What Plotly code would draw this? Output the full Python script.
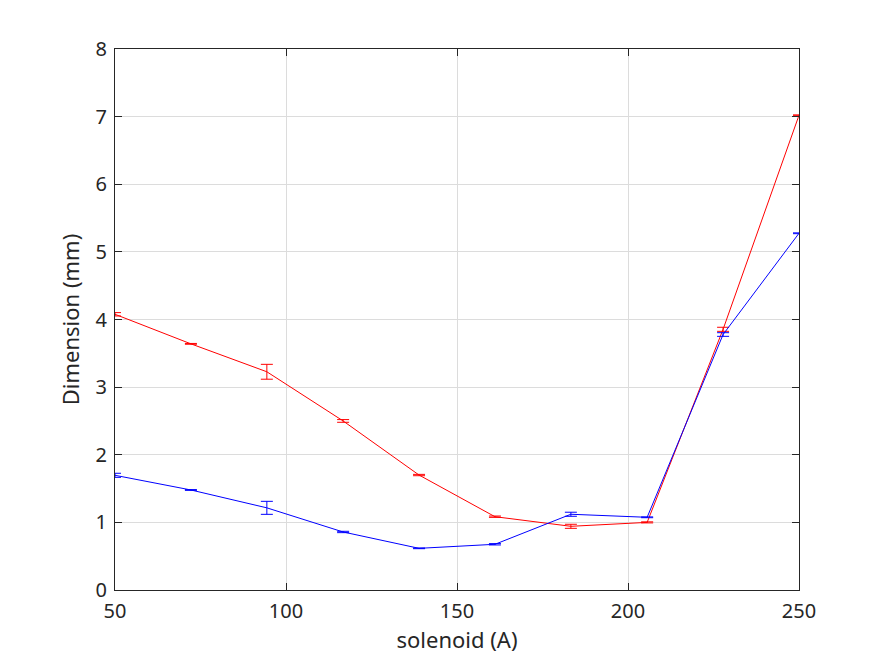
import plotly.graph_objects as go

solenoid = [50, 72.2, 94.4, 116.7, 138.9, 161.1, 183.3, 205.6, 227.8, 250]
red_dim = [4.077, 3.64, 3.227, 2.50, 1.70, 1.084, 0.942, 1.00, 3.855, 7.02]
red_err = [0.025, 0.006, 0.11, 0.02, 0.01, 0.01, 0.03, 0.008, 0.03, 0.006]
blue_dim = [1.696, 1.479, 1.215, 0.858, 0.616, 0.676, 1.12, 1.075, 3.778, 5.275]
blue_err = [0.03, 0.006, 0.096, 0.01, 0.005, 0.01, 0.03, 0.006, 0.027, 0.006]

FONT = "Noto Sans, Open Sans, sans-serif"

fig = go.Figure()
for ys, es, col in [(red_dim, red_err, "#ff0000"), (blue_dim, blue_err, "#0000ff")]:
    fig.add_trace(go.Scatter(
        x=solenoid, y=ys, mode="lines",
        line=dict(color=col, width=1),
        error_y=dict(type="data", array=es, visible=True, color=col, thickness=1, width=6),
        showlegend=False,
    ))

axis_common = dict(
    showgrid=True, gridcolor="#dcdcdc", gridwidth=1,
    showline=True, linecolor="#262626", linewidth=1, mirror="ticks",
    ticks="inside", ticklen=7, tickcolor="#262626",
    tickfont=dict(family=FONT, size=20, color="#262626"),
    zeroline=False,
)
fig.update_layout(
    width=884, height=663,
    paper_bgcolor="white", plot_bgcolor="white",
    margin=dict(l=107, r=93, t=41, b=81, autoexpand=False),
    font=dict(family=FONT, color="#262626"),
    xaxis=dict(range=[50, 250], tickvals=[50, 100, 150, 200, 250], ticklabelstandoff=3,
               title=dict(text="solenoid (A)", font=dict(size=22), standoff=6), **axis_common),
    yaxis=dict(range=[0, 8], tickvals=list(range(0, 9)), ticklabelstandoff=3,
               title=dict(text="Dimension (mm)", font=dict(size=22), standoff=9), **axis_common),
)
fig.write_html("out.html")
